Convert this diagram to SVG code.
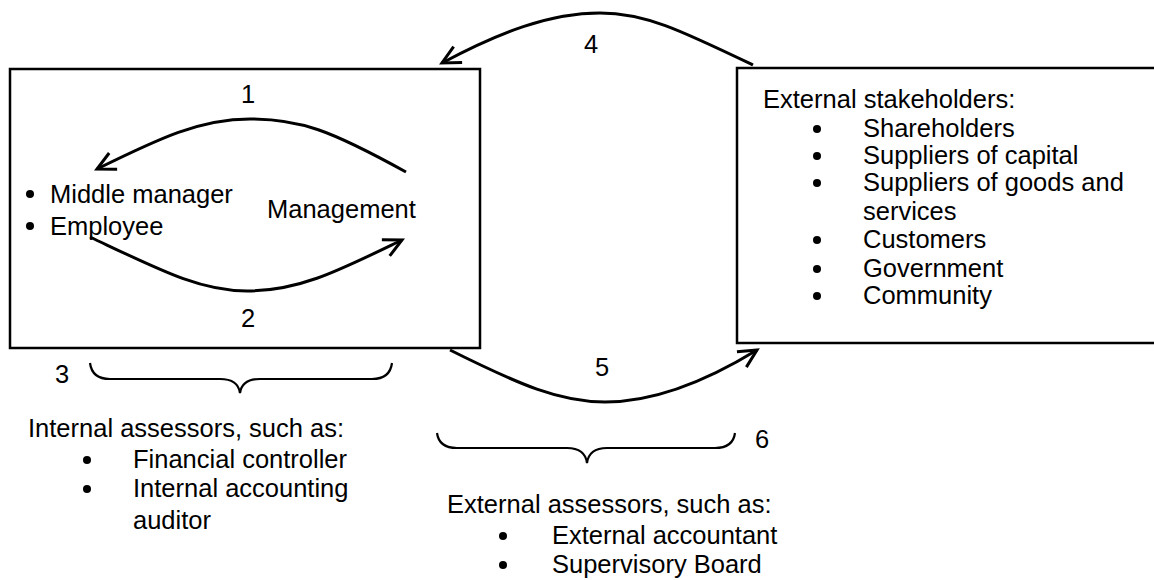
<svg xmlns="http://www.w3.org/2000/svg" width="1154" height="580" viewBox="0 0 1154 580">
<style>
text{font-family:"Liberation Sans",Arial,sans-serif;font-size:25.5px;fill:#000}
.box{fill:#fff;stroke:#000;stroke-width:2.5}
.arr{fill:none;stroke:#000;stroke-width:3}
.brace{fill:none;stroke:#000;stroke-width:2.2}
.dot{fill:#000}
.c{text-anchor:middle}
</style>
<defs>
<marker id="ah" markerUnits="userSpaceOnUse" markerWidth="30" markerHeight="30" refX="20" refY="10" orient="auto" viewBox="0 0 30 20">
<path d="M2,1 L20,10 L2,19" fill="none" stroke="#000" stroke-width="3"/>
</marker>
</defs>
<rect width="1154" height="580" fill="#fff"/>
<g id="internal-box">
<rect class="box" x="10" y="69" width="470" height="279"/>
<circle class="dot" cx="30" cy="194" r="4"/>
<text x="50" y="203">Middle manager</text>
<circle class="dot" cx="30" cy="226" r="4"/>
<text x="50" y="235">Employee</text>
<text x="267" y="218">Management</text>
</g>
<g id="external-box">
<rect class="box" x="737" y="68" width="430" height="275"/>
<text x="763" y="108">External stakeholders:</text>
<circle class="dot" cx="817" cy="129" r="4"/>
<text x="863" y="137">Shareholders</text>
<circle class="dot" cx="817" cy="156" r="4"/>
<text x="863" y="164">Suppliers of capital</text>
<circle class="dot" cx="817" cy="183" r="4"/>
<text x="863" y="191">Suppliers of goods and</text>
<text x="863" y="220">services</text>
<circle class="dot" cx="817" cy="240" r="4"/>
<text x="863" y="248">Customers</text>
<circle class="dot" cx="817" cy="269" r="4"/>
<text x="863" y="277">Government</text>
<circle class="dot" cx="817" cy="296" r="4"/>
<text x="863" y="304">Community</text>
</g>
<g id="connectors">
<path class="arr" marker-end="url(#ah)" d="M406,172 C330,130 300,119 250,119 C200,119 160,138 97,169"/>
<path class="arr" marker-end="url(#ah)" d="M90,237 C160,270 200,291 247,291 C300,291 340,270 402,240"/>
<path class="arr" marker-end="url(#ah)" d="M753,65 C680,30 645,13 600,13 C550,13 500,32 442,63"/>
<path class="arr" marker-end="url(#ah)" d="M450,350 C520,385 560,402 605,402 C650,402 700,385 757,350"/>
<text class="c" x="248" y="103">1</text>
<text class="c" x="248" y="327">2</text>
<text class="c" x="591" y="53">4</text>
<text class="c" x="602" y="376">5</text>
</g>
<g id="internal-assessors">
<path class="brace" d="M90,363 Q92,379 110,379 L220,379 Q238,379 240,393 Q242,379 260,379 L372,379 Q390,379 392,363"/>
<text class="c" x="62" y="383">3</text>
<text x="28" y="437">Internal assessors, such as:</text>
<circle class="dot" cx="87" cy="460" r="4"/>
<text x="133" y="468">Financial controller</text>
<circle class="dot" cx="87" cy="489" r="4"/>
<text x="133" y="497">Internal accounting</text>
<text x="133" y="529">auditor</text>
</g>
<g id="external-assessors">
<path class="brace" d="M437,433 Q439,448 457,448 L567,448 Q585,448 587,463 Q589,448 607,448 L715,448 Q733,448 735,433"/>
<text class="c" x="762" y="448">6</text>
<text x="447" y="513">External assessors, such as:</text>
<circle class="dot" cx="503" cy="536" r="4"/>
<text x="552" y="544">External accountant</text>
<circle class="dot" cx="503" cy="565" r="4"/>
<text x="552" y="573">Supervisory Board</text>
</g>
</svg>
